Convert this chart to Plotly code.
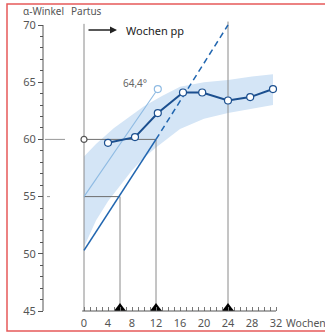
import plotly.graph_objects as go

# ---------------- data ----------------
weeks_obs = [4, 8.5, 12.3, 16.5, 19.7, 24, 27.7, 31.5]
angle_obs = [59.7, 60.2, 62.3, 64.1, 64.1, 63.4, 63.7, 64.4]

band_upper_x = [0, 2, 5, 10, 13, 16, 20, 24, 28, 31.5]
band_upper_y = [58.5, 59.6, 61.0, 62.9, 63.8, 64.6, 65.0, 65.2, 65.5, 65.7]
band_lower_x = [0, 2, 4, 6, 8, 10, 12, 16, 20, 24, 28, 31.5]
band_lower_y = [50.6, 52.9, 54.6, 56.0, 57.3, 58.4, 59.3, 60.9, 61.8, 62.3, 62.7, 63.0]

trend_solid_x = [0, 12]
trend_solid_y = [50.3, 60]
trend_dash_x = [12, 24]
trend_dash_y = [60, 70]

light_line_x = [0, 12.3]
light_line_y = [55, 64.4]
light_label = "64,4°"

triangle_weeks = [6, 12, 24]

x_tickvals = [0, 4, 8, 12, 16, 20, 24, 28, 32]
x_ticktext = ["0", "4", "8", "12", "16", "20", "24", "28", "32"]
y_tickvals = [45, 50, 55, 60, 65, 70]
y_ticktext = ["45", "50", "55", "60", "65", "70"]

# --------------- styling ---------------
W, H = 325, 335
FONT = "Noto Sans"
GRAY = "#8a8a8a"
NAVY = "#1b4f8f"
BLUE = "#2166b0"
LIGHT = "#8fbbe3"
BAND = "#d4e5f6"
TXT = "#555555"

fig = go.Figure()

# confidence band
fig.add_trace(go.Scatter(
    x=band_upper_x + band_lower_x[::-1],
    y=band_upper_y + band_lower_y[::-1],
    fill="toself", fillcolor=BAND, line=dict(width=0),
    mode="lines", hoverinfo="skip", showlegend=False))

# reference lines
def seg(x, y, color=GRAY, width=1, dash=None):
    fig.add_trace(go.Scatter(x=x, y=y, mode="lines",
                             line=dict(color=color, width=width, dash=dash),
                             hoverinfo="skip", showlegend=False))

seg([0, 0], [45, 70.1])            # Partus line
seg([24, 24], [45, 70.3])
seg([12, 12], [45, 60])
seg([0, 12], [60, 60], color="#6e6e6e")
seg([6, 6], [45, 55])
seg([0, 6], [55, 55], color="#6e6e6e")

# light blue line with end marker
fig.add_trace(go.Scatter(
    x=light_line_x, y=light_line_y, mode="lines",
    line=dict(color=LIGHT, width=1.1), hoverinfo="skip", showlegend=False))
fig.add_trace(go.Scatter(
    x=light_line_x[-1:], y=light_line_y[-1:], mode="markers",
    marker=dict(symbol="circle", size=7, color="white",
                line=dict(color=LIGHT, width=1.2)),
    hoverinfo="skip", showlegend=False))

# trend line (solid then dashed)
seg(trend_solid_x, trend_solid_y, color=BLUE, width=1.6)
seg(trend_dash_x, trend_dash_y, color=BLUE, width=1.5, dash="6px,4px")

# observed angle series
fig.add_trace(go.Scatter(
    x=weeks_obs, y=angle_obs, mode="lines+markers",
    line=dict(color=NAVY, width=2),
    marker=dict(symbol="circle", size=7, color="white",
                line=dict(color=NAVY, width=1.2)),
    hoverinfo="skip", showlegend=False))

# open marker at partus
fig.add_trace(go.Scatter(
    x=[0], y=[60], mode="markers",
    marker=dict(symbol="circle", size=6, color="white",
                line=dict(color="#555555", width=1.2)),
    hoverinfo="skip", showlegend=False))

# triangles on the time axis
fig.add_trace(go.Scatter(
    x=triangle_weeks, y=[45.23] * len(triangle_weeks), mode="markers",
    marker=dict(symbol="triangle-up", size=10.5, color="black", line=dict(width=0)),
    hoverinfo="skip", showlegend=False, cliponaxis=False))

# pixel -> data mapping: px = 84 + 6*wk ; py = 311 - (v-45)*11.44
x_range = [(0 - 84) / 6, (W - 84) / 6]
y_range = [45 - (H - 311) / 11.44, 45 + 311 / 11.44]

fig.update_layout(
    width=W, height=H,
    margin=dict(l=0, r=0, t=0, b=0, autoexpand=False),
    paper_bgcolor="white", plot_bgcolor="white",
    font=dict(family=FONT, size=11, color=TXT),
    xaxis=dict(range=x_range, anchor="free", position=(H - 311) / H,
               showgrid=False, zeroline=False, showline=False,
               tickmode="array", tickvals=x_tickvals, ticktext=x_ticktext,
               ticks="inside", ticklen=4, tickwidth=1, tickcolor="#777",
               ticklabelstandoff=4,
               tickfont=dict(size=11, color=TXT, family=FONT),
               minor=dict(tickmode="array",
                          tickvals=[v for v in range(1, 32) if v % 4],
                          ticks="inside", ticklen=4, tickwidth=1, tickcolor="#777")),
    yaxis=dict(range=y_range, anchor="free", position=43 / W,
               showgrid=False, zeroline=False, showline=False,
               tickmode="array", tickvals=y_tickvals, ticktext=y_ticktext,
               ticks="outside", ticklen=5, tickwidth=1, tickcolor="#555",
               tickfont=dict(size=11, color=TXT, family=FONT),
               minor=dict(tickmode="array",
                          tickvals=[v for v in range(46, 70) if v % 5],
                          ticks="outside", ticklen=3, tickwidth=1, tickcolor="#555")),
    showlegend=False,
)

# axis lines
fig.add_shape(type="line", xref="paper", yref="y", x0=43 / W, x1=43 / W,
              y0=45, y1=70, line=dict(color="#555", width=1))
fig.add_shape(type="line", xref="x", yref="y", x0=-0.3, x1=32,
              y0=45, y1=45, line=dict(color="#555", width=1))
# marks at 60 and 55 right of the y-axis
fig.add_shape(type="line", xref="paper", yref="y", x0=45 / W, x1=65 / W,
              y0=60, y1=60, line=dict(color="#999", width=1))
fig.add_shape(type="line", xref="paper", yref="y", x0=47 / W, x1=50 / W,
              y0=55, y1=55, line=dict(color="#999", width=1))

# red frame
fig.add_shape(type="rect", xref="paper", yref="paper",
              x0=7 / W, x1=1.02, y0=(H - 331) / H, y1=(H - 4) / H,
              line=dict(color="#e65a5a", width=1.5))

# texts
fig.add_annotation(xref="paper", yref="paper", x=66 / W, y=1 - 11 / H,
                   text="α-Winkel", showarrow=False, xanchor="right",
                   yanchor="middle", font=dict(size=10, color=TXT))
fig.add_annotation(xref="paper", yref="paper", x=69 / W, y=1 - 11 / H,
                   text="Partus", showarrow=False, xanchor="left",
                   yanchor="middle", font=dict(size=10, color=TXT))
fig.add_annotation(xref="paper", yref="paper", x=124 / W, y=1 - 30 / H,
                   text="Wochen pp", showarrow=False, xanchor="left",
                   yanchor="middle", font=dict(size=11, color="#222"))
fig.add_annotation(xref="paper", yref="paper", x=117 / W, y=1 - 30 / H,
                   ax=-30, ay=0, text="", showarrow=True, arrowhead=2,
                   arrowsize=1, arrowwidth=1.4, arrowcolor="#222")
fig.add_annotation(xref="x", yref="y", x=light_line_x[-1] - 1.4, y=light_line_y[-1] + 0.5,
                   text=light_label, showarrow=False, xanchor="right",
                   yanchor="middle", font=dict(size=10, color="#666"))
fig.add_annotation(xref="paper", yref="paper", x=284 / W, y=(H - 323) / H,
                   text="Wochen", showarrow=False, xanchor="left",
                   yanchor="middle", font=dict(size=10.5, color=TXT))

fig.write_html("out.html",
               config={"displayModeBar": False, "staticPlot": True},
               post_script="document.body.style.margin='0';"
                           "document.body.style.overflow='hidden';")
